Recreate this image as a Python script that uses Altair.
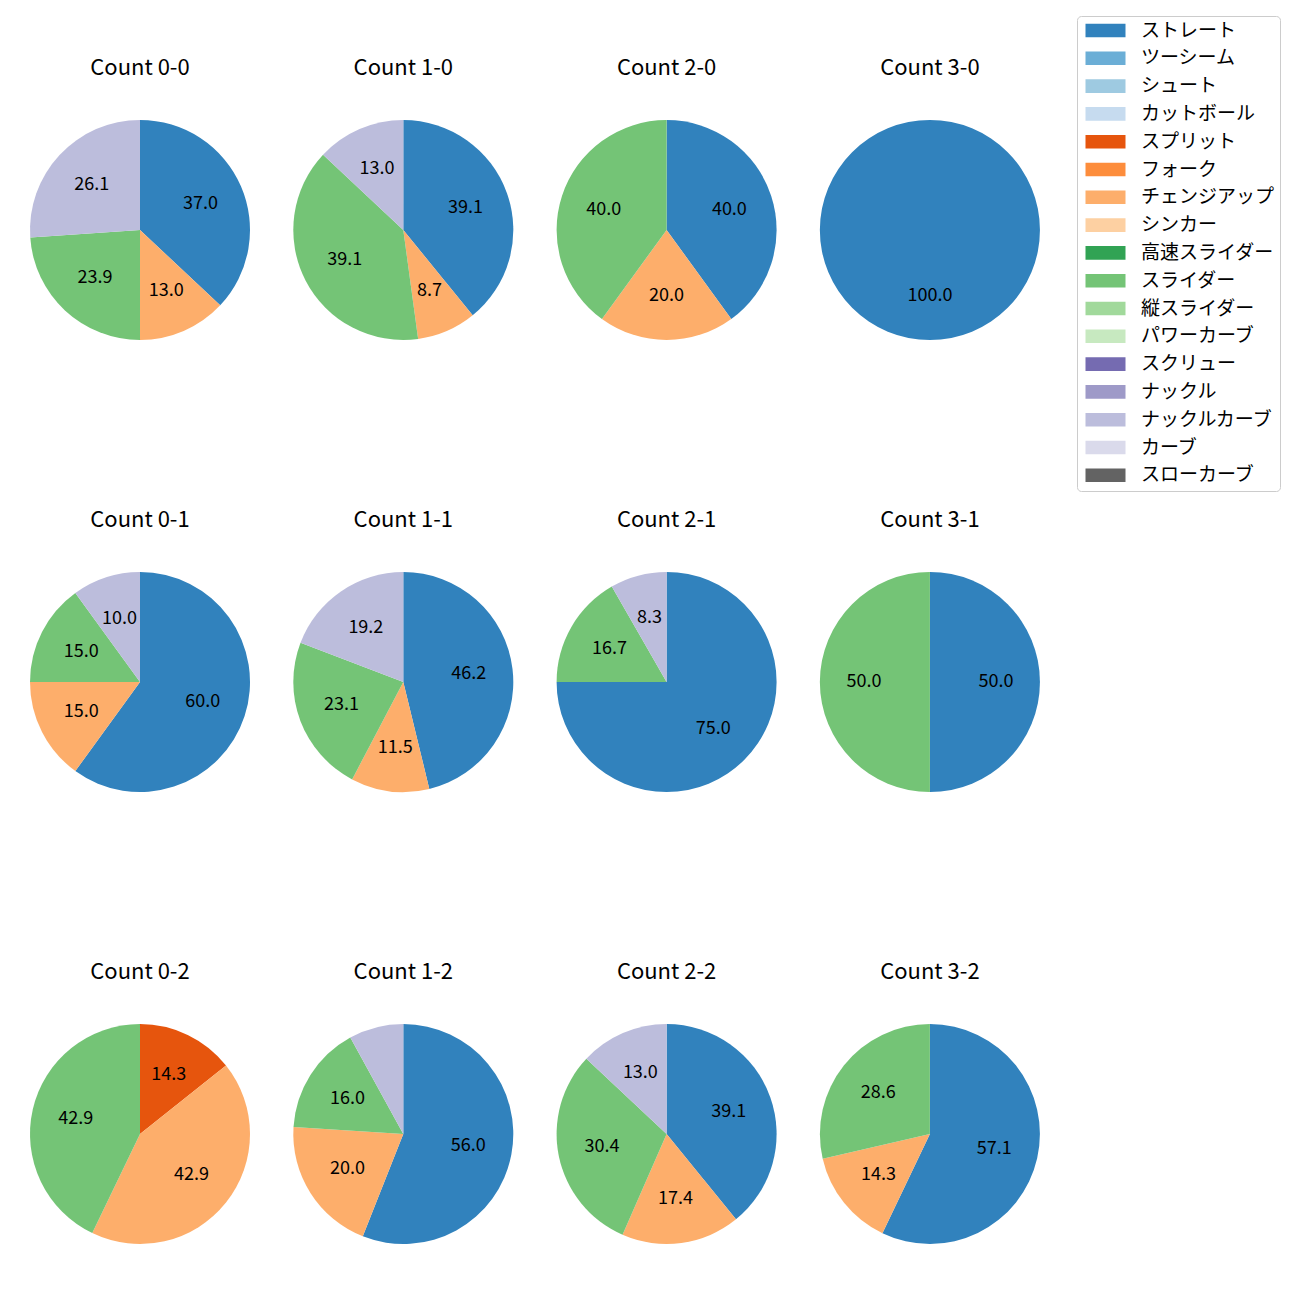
import altair as alt
import pandas as pd

FONT = "Noto Sans CJK JP"

pitch_types = ["ストレート", "ツーシーム", "シュート", "カットボール", "スプリット", "フォーク",
               "チェンジアップ", "シンカー", "高速スライダー", "スライダー", "縦スライダー",
               "パワーカーブ", "スクリュー", "ナックル", "ナックルカーブ", "カーブ", "スローカーブ"]
pitch_colors = ["#3182bd", "#6baed6", "#9ecae1", "#c6dbef", "#e6550d", "#fd8d3c",
                "#fdae6b", "#fdd0a2", "#31a354", "#74c476", "#a1d99b", "#c7e9c0",
                "#756bb1", "#9e9ac8", "#bcbddc", "#dadaeb", "#636363"]

counts = ["0-0", "1-0", "2-0", "3-0",
          "0-1", "1-1", "2-1", "3-1",
          "0-2", "1-2", "2-2", "3-2"]

straight      = [37.0, 39.1, 40.0, 100.0, 60.0, 46.2, 75.0, 50.0, 0.0, 56.0, 39.1, 57.1]
split         = [0.0, 0.0, 0.0, 0.0, 0.0, 0.0, 0.0, 0.0, 14.3, 0.0, 0.0, 0.0]
changeup      = [13.0, 8.7, 20.0, 0.0, 15.0, 11.5, 0.0, 0.0, 42.9, 20.0, 17.4, 14.3]
slider        = [23.9, 39.1, 40.0, 0.0, 15.0, 23.1, 16.7, 50.0, 42.9, 16.0, 30.4, 28.6]
knuckle_curve = [26.1, 13.0, 0.0, 0.0, 10.0, 19.2, 8.3, 0.0, 0.0, 8.0, 13.0, 0.0]

series = {
    "ストレート": straight,
    "スプリット": split,
    "チェンジアップ": changeup,
    "スライダー": slider,
    "ナックルカーブ": knuckle_curve,
}

rows = []
for i, c in enumerate(counts):
    for name, vals in series.items():
        v = vals[i]
        if v > 0:
            rows.append({"count": c, "pitch": name, "value": v,
                         "idx": pitch_types.index(name)})
df = pd.DataFrame(rows)

color = alt.Color(
    "pitch:N",
    scale=alt.Scale(domain=pitch_types, range=pitch_colors),
    sort=pitch_types,
    legend=alt.Legend(
        title=None,
        orient="none",
        legendX=1047,
        legendY=-104,
        symbolType="M-2.5,-0.85L2.5,-0.85L2.5,0.85L-2.5,0.85Z",
        symbolSize=256,
        symbolStrokeWidth=0,
        symbolOpacity=1,
        symbolOffset=14,
        labelFont=FONT,
        labelFontSize=19,
        labelColor="#000000",
        labelOffset=26,
        rowPadding=7.8,
        padding=5,
        strokeColor="#cccccc",
        fillColor="#ffffff",
        cornerRadius=4,
        labelLimit=300,
    ),
)


def panel(c):
    base = alt.Chart(df).transform_filter(alt.datum["count"] == c)
    arc = base.mark_arc(outerRadius=110, stroke=None).encode(
        theta=alt.Theta("value:Q", stack=True),
        color=color,
        order=alt.Order("idx:Q"),
    )
    txt = base.transform_calculate(
        label="datum.value > 8.05 ? format(datum.value, '.1f') : ''"
    ).mark_text(radius=66, font=FONT, fontSize=18, color="#000000").encode(
        theta=alt.Theta("value:Q", stack=True),
        order=alt.Order("idx:Q"),
        text=alt.Text("label:N"),
    )
    return alt.layer(arc, txt).resolve_scale(theta="shared").properties(
        width=220,
        height=220,
        title=alt.TitleParams(f"Count {c}", font=FONT, fontSize=22,
                              fontWeight="normal", color="#000000", offset=40),
    )


grid_rows = []
for r in range(3):
    grid_rows.append(
        alt.hconcat(*[panel(c) for c in counts[r * 4:(r + 1) * 4]], spacing=43.3)
        .resolve_scale(theta="independent")
    )

chart = alt.vconcat(*grid_rows, spacing=169).resolve_scale(
    theta="independent"
).properties(
    padding={"left": 30, "top": 15, "right": 5, "bottom": 5}
).configure_view(stroke=None)

chart.save("out.html", embed_options={"renderer": "svg", "actions": False})
